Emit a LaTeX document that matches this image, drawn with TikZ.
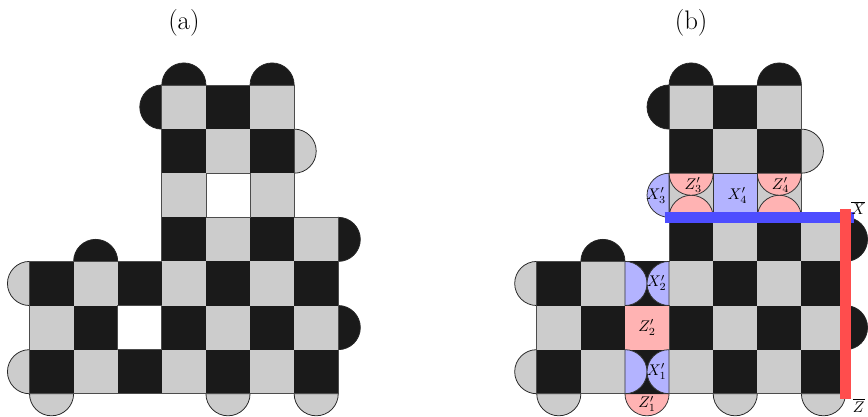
\documentclass[tikz,border=0pt]{standalone}
\usepackage{xcolor}
\usepackage{amsmath, amssymb}
\definecolor{cellblack}{RGB}{26, 26, 26}
\definecolor{cellgray}{RGB}{204, 204, 204}
\definecolor{xpink}{RGB}{255, 179, 179}
\definecolor{xblue}{RGB}{179, 179, 255}
\definecolor{barblue}{RGB}{77, 77, 255}
\definecolor{barred}{RGB}{255, 77, 77}

% half disc: style, centre, start angle
\newcommand{\halfdisc}[3]{\draw[#1, shift={(#2)}] (#3:0.5) arc[start angle=#3, delta angle=180, radius=0.5] -- cycle;}

% the checkerboard that both panels share
\newcommand{\boardpanel}{%
  \foreach \pos in {{3.5,7},{5.5,7},{1.5,3}} {\halfdisc{capblack}{\pos}{0}}
  \halfdisc{capblack}{3,6.5}{90}
  \foreach \pos in {{0,2.5},{0,0.5}} {\halfdisc{capgray}{\pos}{90}}
  \halfdisc{capgray}{6,5.5}{-90}
  \foreach \pos in {{7,3.5},{7,1.5}} {\halfdisc{capblack}{\pos}{-90}}
  \foreach \pos in {{0.5,0},{4.5,0},{6.5,0}} {\halfdisc{capgray}{\pos}{180}}
  \foreach \r/\cmin/\cmax in {0/0/6, 1/0/6, 2/0/6, 3/3/6, 4/3/5, 5/3/5, 6/3/5} {
    \foreach \c in {\cmin,...,\cmax} {
      \pgfmathtruncatemacro{\parity}{mod(\c+\r,2)}
      \ifnum\parity=0
        \fill[cellblack] (\c,\r) rectangle ++(1,1);
      \else
        \fill[cellgray] (\c,\r) rectangle ++(1,1);
      \fi
    }
  }
  \draw[edge, fill=white] (2,1) rectangle (3,2);
  \draw[edge, fill=white] (4,4) rectangle (5,5);
  \draw[edge] (0,0) -- (7,0) -- (7,4) -- (6,4) -- (6,7) -- (3,7) -- (3,3) -- (0,3) -- cycle;
}

\begin{document}
\begin{tikzpicture}[
  every node/.style={inner sep=0pt},
  edge/.style={line width=0.5pt, black!70},
  capblack/.style={draw=black!85, line width=0.5pt, fill=cellblack},
  capgray/.style={draw=black!85, line width=0.5pt, fill=cellgray},
  capblue/.style={draw=black!80, line width=0.5pt, fill=xblue},
  cappink/.style={draw=black!80, line width=0.5pt, fill=xpink},
  bar/.style={line width=2.45mm},
  tag/.style={font=\normalsize},
  title/.style={font=\LARGE}
]
  \useasboundingbox (-0.669, -0.506) rectangle (19.01, 8.927);

  \node[title] (laba) at (3.5, 8.41)  {(a)};
  \node[title] (labb) at (15, 8.41)   {(b)};

  \boardpanel

  \begin{scope}[xshift=11.5cm]
    \boardpanel
    % column of the first hole
    \halfdisc{cappink}{2.5,0}{180}
    \fill[xpink] (2,1) rectangle (3,2);
    \fill[cellblack] (2,0) rectangle (3,1);
    \fill[cellblack] (2,2) rectangle (3,3);
    \foreach \pos in {{2,0.5},{2,2.5}} {\halfdisc{capblue}{\pos}{-90}}
    \foreach \pos in {{3,0.5},{3,2.5}} {\halfdisc{capblue}{\pos}{90}}
    % row of the second hole
    \halfdisc{capblue}{3,4.5}{90}
    \foreach \pos in {{3.5,4},{5.5,4}} {\halfdisc{cappink}{\pos}{0}}
    \foreach \pos in {{3.5,5},{5.5,5}} {\halfdisc{cappink}{\pos}{180}}
    \draw[capblue] (4,4) rectangle (5,5);

    \node[tag] (zone)   at (2.5, -0.23) {$Z'_1$};
    \node[tag] (ztwo)   at (2.5, 1.5)   {$Z'_2$};
    \node[tag] (xone)   at (2.72, 0.5)  {$X'_1$};
    \node[tag] (xtwo)   at (2.72, 2.51) {$X'_2$};
    \node[tag] (xthree) at (2.71, 4.5)  {$X'_3$};
    \node[tag] (xfour)  at (4.55, 4.5)  {$X'_4$};
    \node[tag] (zthree) at (3.55, 4.73) {$Z'_3$};
    \node[tag] (zfour)  at (5.53, 4.73) {$Z'_4$};

    \coordinate (blueleft) at (2.9, 4);
    \coordinate (blueright) at (7.2, 4);
    \coordinate (redtop) at (7, 4.19);
    \coordinate (redbottom) at (7, -0.11);
    \draw[bar, barblue] (blueleft) -- (blueright);
    \draw[bar, barred] (redtop) -- (redbottom);

    \node[tag] (xbar) at (7.29, 4.21)  {$\overline{X}$};
    \node[tag] (zbar) at (7.3, -0.27)  {$\overline{Z}$};
  \end{scope}
\end{tikzpicture}
\end{document}
